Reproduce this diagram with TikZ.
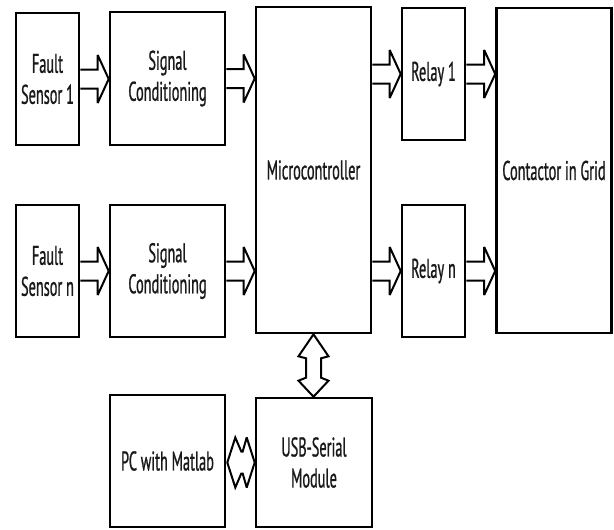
\documentclass[tikz,border=0pt]{standalone}
\usepackage{fontspec}
\setmainfont[FakeStretch=0.53,FakeBold=0.8]{PT Sans}
\usetikzlibrary{calc}
\tikzset{
  blk/.style={draw=black, line width=2.6pt, fill=white, rectangle, inner sep=0pt,
    align=center, font=\fontsize{27}{31}\selectfont, text=black!90},
  arrowline/.style={draw=black, line width=2pt, fill=white, line join=miter, miter limit=3}
}
\newcommand\harr[2]{%
  \draw[arrowline] let \p1=#1, \p2=#2 in
   (\x1,\y1+9.5pt) -- (\x2-11pt,\y1+9.5pt) -- (\x2-11pt,\y1+24pt) -- (\x2,\y1)
   -- (\x2-11pt,\y1-24pt) -- (\x2-11pt,\y1-9.5pt) -- (\x1,\y1-9.5pt);}
\begin{document}
\begin{tikzpicture}[x=1pt,y=-1pt]
\useasboundingbox (0,0) rectangle (614,530);
\node[blk, minimum width=63pt, minimum height=132pt] (fs1) at (47.5,79) {Fault\\Sensor 1};
\node[blk, minimum width=115pt, minimum height=133pt] (sc1) at (167.5,78.5) {Signal\\Conditioning};
\node[blk, minimum width=115pt, minimum height=326pt] (mc) at (313.5,170) {Microcontroller};
\node[blk, minimum width=63pt, minimum height=132pt] (r1) at (433.5,74) {Relay 1};
\node[blk, minimum width=115pt, minimum height=325pt] (ct) at (554,170.5) {Contactor in Grid};
\node[blk, minimum width=63pt, minimum height=132pt] (fsn) at (47.5,271) {Fault\\Sensor n};
\node[blk, minimum width=115pt, minimum height=132pt] (scn) at (167.5,271) {Signal\\Conditioning};
\node[blk, minimum width=63pt, minimum height=132pt] (rn) at (433.5,271) {Relay n};
\node[blk, minimum width=115pt, minimum height=132pt] (pc) at (167.5,461) {PC with Matlab};
\node[blk, minimum width=116pt, minimum height=129pt] (usb) at (314,462.5) {USB-Serial\\Module};

\harr{(fs1.east)}{(sc1.west)}
\harr{(sc1.east)}{(mc.west)}
\harr{(mc.east |- r1.west)}{(r1.west)}
\harr{(r1.east)}{(ct.west)}
\harr{(fsn.east)}{(scn.west)}
\harr{(scn.east)}{(mc.west)}
\harr{(mc.east |- rn.west)}{(rn.west)}
\harr{(rn.east)}{(ct.west)}

% vertical bidirectional arrow (barbed heads)
\draw[arrowline] let \p1=(mc.south), \p2=(usb.north) in
  (\x1-7.5pt,\y1-24pt) -- (\x1-15pt,\y1-22pt) -- (\x1,\y1) -- (\x1+15pt,\y1-22pt)
  -- (\x1+7.5pt,\y1-24pt) -- (\x1+7.5pt,\y2+19pt) -- (\x1+15pt,\y2+16pt) -- (\x1,\y2)
  -- (\x1-15pt,\y2+16pt) -- (\x1-7.5pt,\y2+19pt) -- cycle;
% horizontal bidirectional arrow (barbed heads)
\coordinate (hl) at (pc.east |- usb.west);
\draw[arrowline] let \p1=(hl), \p2=(usb.west) in
  (\x1+15pt,\y1+11pt) -- (\x1+9pt,\y1+25pt) -- (\x1+1pt,\y1) -- (\x1+9pt,\y1-25pt)
  -- (\x1+15pt,\y1-11pt) -- (\x2-12pt,\y1-11pt) -- (\x2-8pt,\y1-25pt) -- (\x2,\y1)
  -- (\x2-8pt,\y1+25pt) -- (\x2-12pt,\y1+11pt) -- cycle;
\end{tikzpicture}
\end{document}
